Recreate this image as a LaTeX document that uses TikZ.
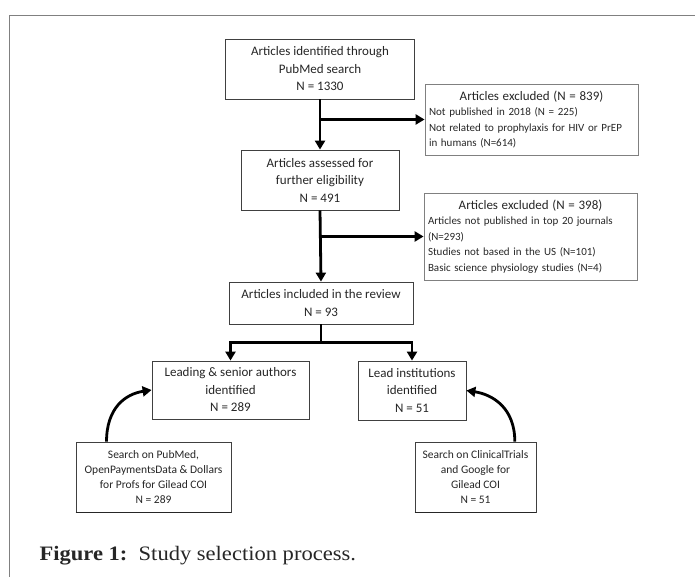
\documentclass[tikz,border=0pt]{standalone}
\usepackage{fontspec}
\setmainfont{Liberation Serif}
\newfontfamily\boxfont{Carlito}
\newfontfamily\captfont[FakeStretch=1.1]{Liberation Serif}
\usetikzlibrary{shapes, arrows.meta, positioning}

\newcommand{\exhead}{\fontsize{13}{16}\selectfont}
\tikzset{
  stage/.style={draw=black!75, line width=0.8pt, fill=white, align=center, inner sep=2pt,
    text=black!85, font=\boxfont\fontsize{13}{17.5}\selectfont},
  search/.style={stage, font=\boxfont\fontsize{11.5}{14.8}\selectfont},
  excl/.style={draw=black!50, line width=0.8pt, align=left, inner xsep=4pt, inner ysep=0pt,
    text width=205pt, minimum height=71pt, text=black!85,
    font=\boxfont\fontsize{11}{15.5}\selectfont},
  flow/.style={line width=2.8pt, -{Triangle[length=9pt,width=10pt]}},
}

\begin{document}
\begin{tikzpicture}[x=1pt, y=-1pt]
        \useasboundingbox (0,0) rectangle (695,577);
        % Rahmen
        \draw[gray, line width=1.4pt] (9.5,577) -- (9.5,15.5) -- (695,15.5);

        % Hauptstufen
        \node[stage, minimum width=189pt, minimum height=60pt] (ident) at (320,69)
            {Articles identified through\\PubMed search\\N = 1330};
        \node[stage, minimum width=158pt, minimum height=60pt] (elig) at (320,180)
            {Articles assessed for\\further eligibility\\N = 491};
        \node[stage, minimum width=184pt, minimum height=42pt] (incl) at (321,303)
            {Articles included in the review\\N = 93};
        \node[stage, minimum width=157pt, minimum height=58pt] (auth) at (230.5,390)
            {Leading \& senior authors\\identified\\N = 289};
        \node[stage, minimum width=108pt, minimum height=59pt] (inst) at (412,390.5)
            {Lead institutions\\identified\\N = 51};

        % Suchquellen
        \node[search, minimum width=155pt, minimum height=70pt] (srchA) at (153.5,477)
            {Search on PubMed,\\OpenPaymentsData \& Dollars\\for Profs for Gilead COI\\N = 289};
        \node[search, minimum width=121pt, minimum height=70pt] (srchB) at (475.5,477)
            {Search on ClinicalTrials\\and Google for\\Gilead COI\\N = 51};
        \draw[line width=1.6pt, black!85] (srchA.south west) -- (srchA.south east);
        \draw[line width=1.6pt, black!85] (srchB.south west) -- (srchB.south east);

        % Ausschluesse
        \node[excl] (exclA) at (531.5,119.5)
            {{\centering\exhead Articles excluded (N = 839)\par}
             Not published in 2018 (N = 225)\\
             Not related to prophylaxis for HIV or PrEP\\
             in humans (N=614)};
        \node[excl, minimum height=87pt] (exclB) at (530.5,236.5)
            {{\centering\exhead Articles excluded (N = 398)\par}
             Articles not published in top 20 journals\\
             (N=293)\\
             Studies not based in the US (N=101)\\
             Basic science physiology studies (N=4)};

        % Pfeile
        \draw[flow] (ident.south) -- (elig.north);
        \draw[flow] (ident.south |- exclA.west) -- (exclA.west);
        \draw[flow] (elig.south) -- (incl.north);
        \draw[flow] (elig.south |- exclB.west) -- (exclB.west);
        \draw[line width=2.8pt] (incl.south) -- ++(0,18) coordinate (split);
        \draw[flow] (split) -| (auth.north);
        \draw[flow] (split) -| (inst.north);
        \draw[flow] (srchA.143) .. controls +(0,-34) and +(-26,4) .. (auth.west);
        \draw[flow] (srchB.42) .. controls +(0,-34) and +(26,4) .. (inst.east);

        % Bildunterschrift
        \node[anchor=base west, text=black!85, font=\captfont\fontsize{20.5}{24}\selectfont] (capt) at (36,560)
            {\textbf{Figure 1:}\ \ Study selection process.};
\end{tikzpicture}
\end{document}
